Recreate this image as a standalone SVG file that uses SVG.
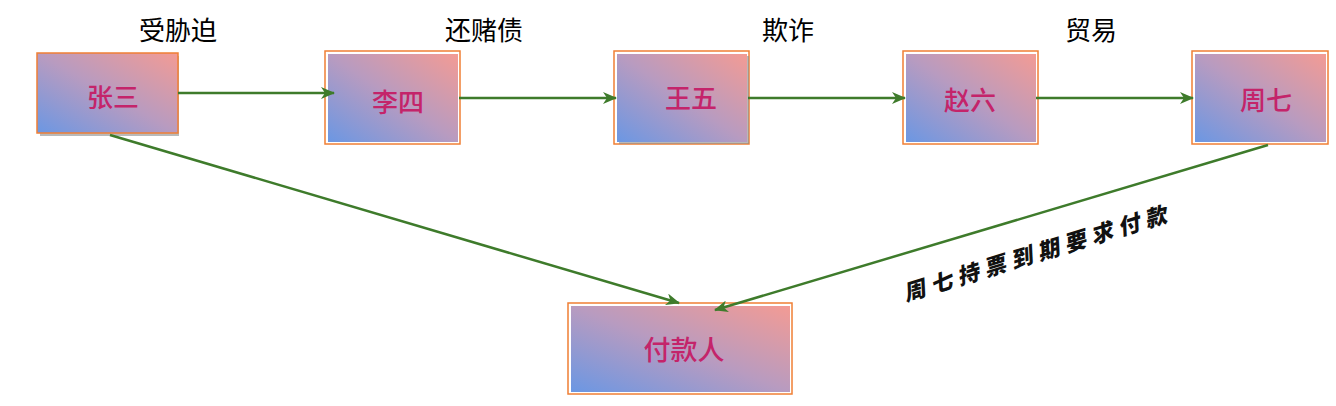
<svg xmlns="http://www.w3.org/2000/svg" width="1336" height="406" viewBox="0 0 1336 406">
<defs>
<linearGradient id="g" x1="0" y1="1" x2="1" y2="0">
<stop offset="0" stop-color="#6b97e3"/>
<stop offset="0.5" stop-color="#b89bc0"/>
<stop offset="1" stop-color="#f39b94"/>
</linearGradient>
<marker id="ah" viewBox="0 0 14 12" refX="13" refY="6" markerWidth="14" markerHeight="12" markerUnits="userSpaceOnUse" orient="auto">
<path d="M0,0 L14,6 L0,12 L4,6 Z" fill="#3e7b2b"/>
</marker>
</defs>
<style>
.outer{fill:#ffffff;stroke:#f07f35;stroke-width:1.5}
.inner{fill:url(#g)}
.shadow{fill:#8a8a8a;opacity:0.6}
.nt{font-family:"Noto Sans CJK SC","Noto Sans",sans-serif;font-size:26px;font-weight:500;fill:#c4246a;text-anchor:middle;dominant-baseline:central}
.lb{font-family:"Noto Sans CJK SC","Noto Sans",sans-serif;font-size:26px;fill:#000;text-anchor:middle;dominant-baseline:central}
.cn{fill:none;stroke:#3e7b2b;stroke-width:2.5;marker-end:url(#ah)}
.hw{font-family:"Noto Sans CJK SC",serif;font-size:22px;font-weight:900;font-style:italic;fill:#111;letter-spacing:6px;dominant-baseline:central}
</style>
<g id="n1">
<rect class="shadow" x="40" y="56" width="139" height="80"/>
<rect class="inner" x="37" y="53" width="141" height="80" stroke="#f07f35" stroke-width="1.5"/>
<text class="nt" x="113" y="95">张三</text>
</g>
<g id="n2">
<rect class="outer" x="325" y="51" width="135" height="93"/>
<rect class="inner" x="328" y="54" width="130" height="88"/>
<text class="nt" x="398" y="100">李四</text>
</g>
<g id="n3">
<rect class="outer" x="614" y="51" width="135" height="93"/>
<rect class="shadow" x="619" y="56" width="130" height="88"/>
<rect class="inner" x="617" y="54" width="130" height="88"/>
<text class="nt" x="691" y="96">王五</text>
</g>
<g id="n4">
<rect class="outer" x="903" y="51" width="135" height="93"/>
<rect class="inner" x="906" y="54" width="130" height="88"/>
<text class="nt" x="970" y="98">赵六</text>
</g>
<g id="n5">
<rect class="outer" x="1192" y="51" width="136" height="93"/>
<rect class="inner" x="1195" y="54" width="131" height="88"/>
<text class="nt" x="1266" y="98">周七</text>
</g>
<g id="n6">
<rect class="outer" x="568" y="303" width="224" height="91"/>
<rect class="inner" x="571" y="306" width="219" height="86"/>
<text class="nt" x="684" y="348" style="font-size:27px">付款人</text>
</g>
<g id="connectors">
<line class="cn" x1="178" y1="93" x2="334" y2="93"/>
<line class="cn" x1="459" y1="98" x2="616" y2="98"/>
<line class="cn" x1="748" y1="98" x2="905" y2="98"/>
<line class="cn" x1="1036" y1="98" x2="1193" y2="98"/>
<line class="cn" x1="110" y1="135" x2="679" y2="303"/>
<line class="cn" x1="1268" y1="145" x2="715" y2="310"/>
</g>
<g id="labels">
<text class="lb" x="178" y="28">受胁迫</text>
<text class="lb" x="484" y="28">还赌债</text>
<text class="lb" x="788" y="28">欺诈</text>
<text class="lb" x="1091" y="28">贸易</text>
<text class="hw" x="903" y="292" transform="rotate(-17 903 292)">周七持票到期要求付款</text>
</g>
</svg>
